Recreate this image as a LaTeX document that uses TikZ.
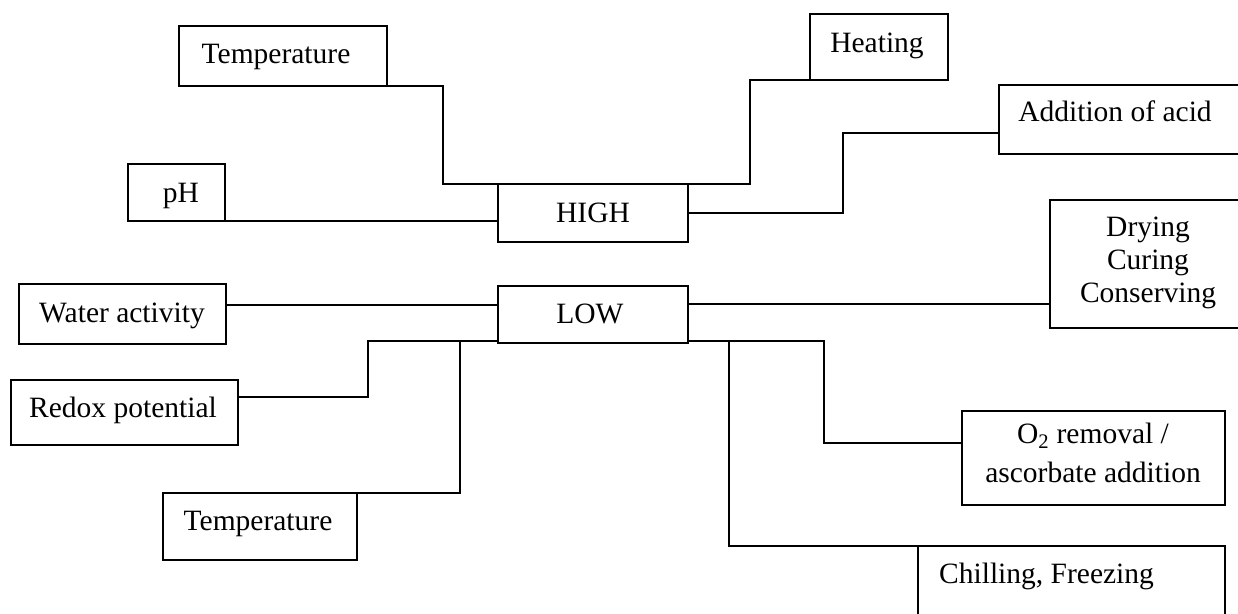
\documentclass[tikz,border=0pt]{standalone}
\usepackage{fontspec}
\setmainfont{Liberation Serif}
\begin{document}
\begin{tikzpicture}[x=1pt,y=-1pt,
  box/.style={draw, line width=1.9pt, inner sep=0pt, outer sep=0pt, anchor=north west},
  openbox/.style={inner sep=0pt, outer sep=0pt, anchor=north west},
  txt/.style={inner sep=0pt, font=\fontsize{29.5}{34}\selectfont},
  link/.style={line width=1.9pt}]
\useasboundingbox (0,0) rectangle (1238,613);
% boxes
\node[box, minimum width=208pt, minimum height=60pt] (temp1) at (179,26) {};
\node[box, minimum width=97pt, minimum height=57pt] (ph) at (128,164) {};
\node[box, minimum width=190pt, minimum height=58pt] (high) at (498,184) {};
\node[box, minimum width=138pt, minimum height=66pt] (heat) at (810,14) {};
\node[openbox, minimum width=245pt, minimum height=69pt] (acid) at (999,85) {};
\node[openbox, minimum width=195pt, minimum height=128pt] (dry) at (1050,200) {};
\node[box, minimum width=207pt, minimum height=60pt] (water) at (19,284) {};
\node[box, minimum width=190pt, minimum height=57pt] (low) at (498,286) {};
\node[box, minimum width=227pt, minimum height=65pt] (redox) at (11,380) {};
\node[box, minimum width=194pt, minimum height=67pt] (temp2) at (163,493) {};
\node[box, minimum width=263pt, minimum height=94pt] (o2) at (962,411) {};
\node[openbox, minimum width=307pt, minimum height=75pt] (chill) at (918,546) {};
\draw[link] (acid.north east) -- (acid.north west) -- (acid.south west) -- (acid.south east);
\draw[link] (dry.north east) -- (dry.north west) -- (dry.south west) -- (dry.south east);
\draw[link] (chill.south west) -- (chill.north west) -- (chill.north east) -- (chill.south east);
% texts
\node[txt, anchor=base] (ttemp1) at (276,63) {Temperature};
\node[txt, anchor=base] (tph) at (181,202) {pH};
\node[txt, anchor=base] (thigh) at (593,222) {HIGH};
\node[txt, anchor=base] (theat) at (877,52) {Heating};
\node[txt, anchor=base] (tacid) at (1115,121) {Addition of acid};
\node[txt, align=center, font=\fontsize{29.5}{33}\selectfont] (tdry) at (1148,263) {Drying\\Curing\\Conserving};
\node[txt, anchor=base] (twater) at (122,322) {Water activity};
\node[txt, anchor=base] (tlow) at (590,323) {LOW};
\node[txt, anchor=base] (tredox) at (123,417) {Redox potential};
\node[txt, anchor=base] (ttemp2) at (258,530) {Temperature};
\node[txt, align=center, font=\fontsize{29.5}{39}\selectfont] (to2) at (1093,453) {O\textsubscript{2} removal /\\ascorbate addition};
\node[txt, anchor=base west] (tchill) at (939,583) {Chilling, Freezing};
% junctions
\coordinate (j1) at (460,341);
\coordinate (j2) at (729,341);
% connectors
\draw[link] (temp1.south east) -| (443,184) -- (high.north west);
\draw[link] (ph.south east) -- (ph.south east -| high.west);
\draw[link] (high.north east) -- (750,184) |- (heat.south west);
\draw[link] (high.east) -- (843,213) |- (acid.west |- 0,133);
\draw[link] (water.east |- 0,305) -- (low.west |- 0,305);
\draw[link] (low.east |- 0,304) -- (dry.west |- 0,304);
\draw[link] (low.west |- 0,341) -- (368,341) |- (redox.east |- 0,397);
\draw[link] (j1) -- (460,493) -- (temp2.north east);
\draw[link] (low.east |- 0,341) -- (824,341) |- (o2.west |- 0,443);
\draw[link] (j2) -- (729,546) -- (chill.north west);
\end{tikzpicture}
\end{document}
